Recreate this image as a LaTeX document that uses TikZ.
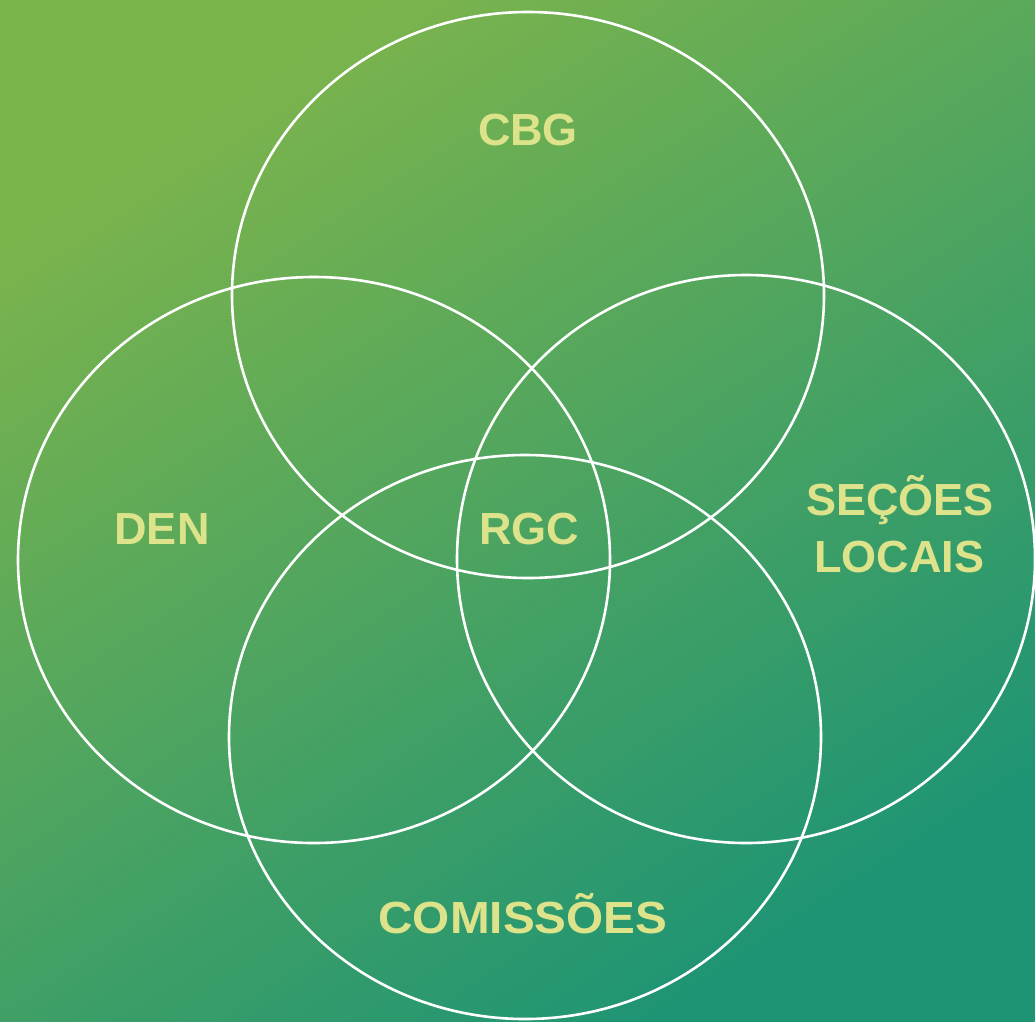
\documentclass[tikz,border=0pt]{standalone}
\usepackage{fontspec}
\setmainfont{Liberation Sans}
\definecolor{bgA}{RGB}{124,180,76}
\definecolor{bgB}{RGB}{30,148,116}
\definecolor{lbl}{RGB}{220,227,138}
\begin{document}
\begin{tikzpicture}[x=1pt,y=-1pt,
  ring/.style={draw=white,line width=2.6pt},
  lab/.style={text=lbl,font=\bfseries\fontsize{45}{52}\selectfont,inner sep=0pt,anchor=base}]
\useasboundingbox (0,0) rectangle (1035,1021);
\shade[top color=bgA,bottom color=bgB,shading angle=33] (0,0) rectangle (1035,1021);
\draw[ring] (528,295) ellipse [x radius=296,y radius=283];
\draw[ring] (314,560) ellipse [x radius=296,y radius=283];
\draw[ring] (746,559) ellipse [x radius=289,y radius=284];
\draw[ring] (525,737) ellipse [x radius=296,y radius=282];
\node[lab] (cbg) at (528,145) {CBG};
\node[lab] (den) at (162,544) {DEN};
\node[lab] (rgc) at (529,544) {RGC};
\node[lab] (sec) at (900,515) {SEÇÕES};
\node[lab] (loc) at (899,572) {LOCAIS};
\node[lab,xscale=1.06] (com) at (523,933) {COMISSÕES};
\end{tikzpicture}
\end{document}
